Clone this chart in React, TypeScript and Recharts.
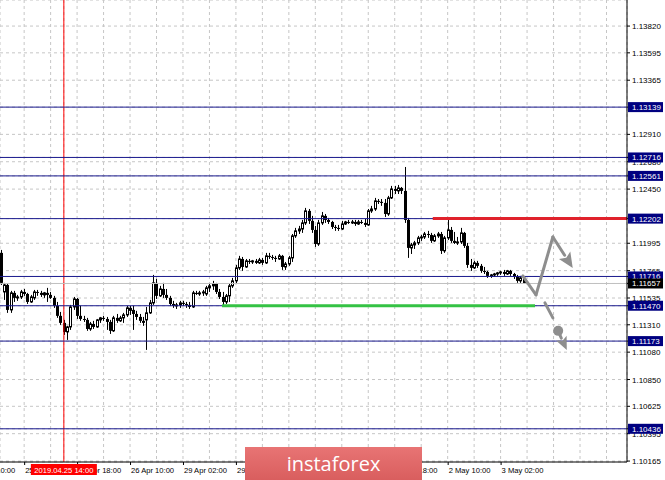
import { ComposedChart, Bar, XAxis, YAxis, CartesianGrid, ReferenceLine, ReferenceDot } from 'recharts'

// H1 candles, slot 0 = 24 Apr 19:00, slot 158 = 3 May 09:00 (weekend skipped)
const opens = [
  1.11914, 1.11586, 1.11645, 1.11435, 1.11578, 1.11536, 1.11544, 1.11586, 1.11569, 1.11502,
  1.11536, 1.11586, 1.11578, 1.11561, 1.11578, 1.11561, 1.11536, 1.11469, 1.11385, 1.11326,
  1.11250, 1.11292, 1.11460, 1.11527, 1.11385, 1.11359, 1.11351, 1.11275, 1.11317, 1.11292,
  1.11351, 1.11368, 1.11359, 1.11334, 1.11259, 1.11368, 1.11343, 1.11368, 1.11393, 1.11452,
  1.11435, 1.11401, 1.11376, 1.11343, 1.11351, 1.11410, 1.11494, 1.11662, 1.11553, 1.11611,
  1.11561, 1.11536, 1.11485, 1.11469, 1.11477, 1.11494, 1.11485, 1.11477, 1.11460, 1.11578,
  1.11569, 1.11578, 1.11569, 1.11620, 1.11637, 1.11653, 1.11586, 1.11544, 1.11502, 1.11553,
  1.11637, 1.11679, 1.11788, 1.11863, 1.11796, 1.11847, 1.11838, 1.11847, 1.11830, 1.11855,
  1.11830, 1.11889, 1.11880, 1.11872, 1.11863, 1.11889, 1.11796, 1.11821, 1.11872, 1.12057,
  1.12099, 1.12115, 1.12166, 1.12267, 1.12183, 1.12107, 1.11989, 1.12166, 1.12225, 1.12191,
  1.12174, 1.12132, 1.12124, 1.12115, 1.12157, 1.12174, 1.12166, 1.12174, 1.12157, 1.12174,
  1.12166, 1.12149, 1.12267, 1.12283, 1.12351, 1.12343, 1.12334, 1.12241, 1.12376, 1.12451,
  1.12435, 1.12460, 1.12435, 1.12191, 1.11956, 1.11981, 1.11998, 1.12040, 1.12048, 1.12073,
  1.12065, 1.12015, 1.12057, 1.12073, 1.11931, 1.12040, 1.12107, 1.12015, 1.11998, 1.12006,
  1.12082, 1.11973, 1.11813, 1.11788, 1.11830, 1.11805, 1.11763, 1.11754, 1.11721, 1.11729,
  1.11737, 1.11746, 1.11754, 1.11737, 1.11763, 1.11737, 1.11712, 1.11679, 1.11704,
]
const highs = [
  1.11939, 1.11662, 1.11653, 1.11595, 1.11595, 1.11561, 1.11603, 1.11611, 1.11578, 1.11561,
  1.11603, 1.11603, 1.11595, 1.11586, 1.11620, 1.11586, 1.11553, 1.11502, 1.11418, 1.11351,
  1.11301, 1.11477, 1.11544, 1.11536, 1.11469, 1.11385, 1.11368, 1.11334, 1.11343, 1.11359,
  1.11376, 1.11385, 1.11376, 1.11351, 1.11385, 1.11401, 1.11385, 1.11410, 1.11469, 1.11469,
  1.11469, 1.11427, 1.11401, 1.11376, 1.11460, 1.11519, 1.11729, 1.11695, 1.11637, 1.11662,
  1.11611, 1.11553, 1.11511, 1.11494, 1.11511, 1.11511, 1.11502, 1.11502, 1.11595, 1.11595,
  1.11595, 1.11603, 1.11637, 1.11653, 1.11679, 1.11662, 1.11611, 1.11586, 1.11569, 1.11653,
  1.11704, 1.11813, 1.11889, 1.11880, 1.11863, 1.11863, 1.11855, 1.11863, 1.11872, 1.11872,
  1.11914, 1.11914, 1.11897, 1.11889, 1.11905, 1.11897, 1.11838, 1.11889, 1.12073, 1.12124,
  1.12141, 1.12191, 1.12292, 1.12283, 1.12225, 1.12141, 1.12191, 1.12258, 1.12241, 1.12208,
  1.12183, 1.12149, 1.12149, 1.12183, 1.12183, 1.12191, 1.12191, 1.12191, 1.12191, 1.12191,
  1.12199, 1.12283, 1.12309, 1.12376, 1.12367, 1.12367, 1.12367, 1.12393, 1.12477, 1.12477,
  1.12485, 1.12468, 1.12636, 1.12208, 1.11998, 1.12015, 1.12057, 1.12065, 1.12090, 1.12099,
  1.12082, 1.12073, 1.12090, 1.12090, 1.12057, 1.12191, 1.12132, 1.12090, 1.12048, 1.12124,
  1.12090, 1.11998, 1.11863, 1.11847, 1.11847, 1.11821, 1.11796, 1.11763, 1.11737, 1.11746,
  1.11754, 1.11763, 1.11771, 1.11771, 1.11771, 1.11746, 1.11729, 1.11721, 1.11712,
]
const lows = [
  1.11645, 1.11519, 1.11410, 1.11410, 1.11502, 1.11511, 1.11527, 1.11553, 1.11485, 1.11494,
  1.11519, 1.11553, 1.11544, 1.11536, 1.11502, 1.11527, 1.11452, 1.11368, 1.11309, 1.11225,
  1.11183, 1.11267, 1.11435, 1.11359, 1.11343, 1.11334, 1.11259, 1.11259, 1.11275, 1.11284,
  1.11326, 1.11343, 1.11267, 1.11233, 1.11250, 1.11326, 1.11334, 1.11326, 1.11376, 1.11393,
  1.11267, 1.11351, 1.11326, 1.11301, 1.11099, 1.11401, 1.11477, 1.11527, 1.11544, 1.11536,
  1.11519, 1.11469, 1.11452, 1.11443, 1.11452, 1.11469, 1.11452, 1.11443, 1.11452, 1.11561,
  1.11553, 1.11553, 1.11553, 1.11586, 1.11603, 1.11569, 1.11527, 1.11477, 1.11485, 1.11502,
  1.11620, 1.11653, 1.11771, 1.11763, 1.11788, 1.11821, 1.11821, 1.11821, 1.11821, 1.11813,
  1.11821, 1.11863, 1.11855, 1.11838, 1.11855, 1.11771, 1.11771, 1.11805, 1.11838, 1.12040,
  1.12073, 1.12082, 1.12149, 1.12157, 1.12082, 1.11964, 1.11973, 1.12149, 1.12166, 1.12157,
  1.12115, 1.12099, 1.12099, 1.12107, 1.12149, 1.12157, 1.12157, 1.12141, 1.12149, 1.12157,
  1.12132, 1.12141, 1.12250, 1.12267, 1.12325, 1.12309, 1.12216, 1.12225, 1.12367, 1.12409,
  1.12409, 1.12409, 1.12166, 1.11872, 1.11905, 1.11947, 1.11981, 1.12015, 1.12031, 1.12040,
  1.11998, 1.12006, 1.12040, 1.11905, 1.11914, 1.12023, 1.11998, 1.11989, 1.11981, 1.11989,
  1.11956, 1.11788, 1.11763, 1.11779, 1.11788, 1.11746, 1.11737, 1.11704, 1.11704, 1.11712,
  1.11721, 1.11729, 1.11721, 1.11729, 1.11721, 1.11695, 1.11662, 1.11662, 1.11653,
]
const closes = [
  1.11662, 1.11645, 1.11435, 1.11578, 1.11536, 1.11544, 1.11586, 1.11569, 1.11502, 1.11544,
  1.11586, 1.11578, 1.11561, 1.11578, 1.11561, 1.11536, 1.11469, 1.11385, 1.11326, 1.11250,
  1.11292, 1.11460, 1.11527, 1.11385, 1.11359, 1.11351, 1.11275, 1.11317, 1.11292, 1.11351,
  1.11368, 1.11359, 1.11334, 1.11259, 1.11368, 1.11343, 1.11368, 1.11393, 1.11452, 1.11427,
  1.11401, 1.11376, 1.11343, 1.11326, 1.11410, 1.11494, 1.11662, 1.11553, 1.11611, 1.11561,
  1.11536, 1.11485, 1.11469, 1.11477, 1.11494, 1.11485, 1.11477, 1.11460, 1.11578, 1.11569,
  1.11578, 1.11586, 1.11620, 1.11637, 1.11653, 1.11586, 1.11544, 1.11502, 1.11553, 1.11637,
  1.11679, 1.11788, 1.11863, 1.11796, 1.11847, 1.11838, 1.11847, 1.11830, 1.11855, 1.11830,
  1.11889, 1.11880, 1.11872, 1.11863, 1.11889, 1.11796, 1.11821, 1.11872, 1.12057, 1.12099,
  1.12115, 1.12166, 1.12267, 1.12183, 1.12107, 1.11989, 1.12166, 1.12225, 1.12191, 1.12174,
  1.12132, 1.12124, 1.12115, 1.12157, 1.12174, 1.12166, 1.12174, 1.12157, 1.12174, 1.12166,
  1.12149, 1.12267, 1.12283, 1.12351, 1.12343, 1.12334, 1.12241, 1.12376, 1.12451, 1.12435,
  1.12460, 1.12435, 1.12191, 1.11956, 1.11981, 1.11998, 1.12040, 1.12048, 1.12073, 1.12065,
  1.12015, 1.12057, 1.12073, 1.11931, 1.12040, 1.12107, 1.12015, 1.11998, 1.12006, 1.12082,
  1.11973, 1.11813, 1.11788, 1.11830, 1.11805, 1.11763, 1.11754, 1.11721, 1.11729, 1.11737,
  1.11746, 1.11754, 1.11737, 1.11763, 1.11737, 1.11712, 1.11679, 1.11704, 1.11657,
]

// price scale ticks (1.13140 and 1.12225 sit fully under level tags and are left out)
const priceTicks = [
  1.1382, 1.13595, 1.13365, 1.1291, 1.1268, 1.1245, 1.11995,
  1.11765, 1.11535, 1.1131, 1.1108, 1.1085, 1.10625, 1.10395, 1.10165,
]
const gridSlots = [7, 15, 23, 31, 39, 47, 55, 63, 71, 79, 87, 95, 103, 111, 119, 127, 135, 143, 151, 159, 167, 175, 183]
const labelSlots = [-9, 7, 23, 39, 55, 71, 87, 103, 119, 135, 151]
const timeLabels = [
  '24 Apr 10:00', '25 Apr 02:00', '25 Apr 18:00', '26 Apr 10:00', '29 Apr 02:00', '29 Apr 18:00',
  '30 Apr 10:00', '1 May 02:00', '1 May 18:00', '2 May 10:00', '3 May 02:00',
]

const levels = [1.13139, 1.12716, 1.12561, 1.12202, 1.11716, 1.1147, 1.11173, 1.10436]
const lastPrice = 1.11657
const markerSlot = 19
const markerLabel = '2019.04.25 14:00'
const resistance = { from: 130.5, to: 189.2, price: 1.12202 }
const support = { from: 66.8, to: 161.4, price: 1.1147 }

// forecast drawing: zigzag up then down, alternative dashed path down through the dot
const upPath = [
  { slot: 157.7, price: 1.11721 },
  { slot: 161.7, price: 1.11561 },
  { slot: 166.8, price: 1.12048 },
  { slot: 172.8, price: 1.11788 },
]
const downDash = [
  { slot: 164.4, price: 1.11494 },
  { slot: 166.8, price: 1.11368 },
]
const downDot = { slot: 168.4, price: 1.11259 }
const downArrow = [
  { slot: 168.9, price: 1.11225 },
  { slot: 171.0, price: 1.11099 },
]

const candles = opens.map((o, i) => ({
  slot: i,
  open: o,
  high: highs[i],
  low: lows[i],
  close: closes[i],
}))

const NAVY = '#1a1a8e'
const ARROW = '#8e8e8e'

function Candle(props: any) {
  const { x, y, width, height, payload } = props
  if (height == null || !payload) return null
  const top = Math.min(y, y + height)
  const h = Math.abs(height)
  const k = h / (payload.high - payload.low)
  const yo = top + (payload.high - payload.open) * k
  const yc = top + (payload.high - payload.close) * k
  const cx = Math.round(x + width / 2) + 0.5
  const bull = payload.close >= payload.open
  const bt = Math.min(yo, yc)
  const bh = Math.max(Math.abs(yo - yc), 1)
  return (
    <g>
      <line x1={cx} y1={top} x2={cx} y2={top + h} stroke="#000" strokeWidth={1} />
      {bull ? (
        <rect x={cx - 1} y={bt} width={2} height={bh} fill="#fff" stroke="#000" strokeWidth={1} />
      ) : (
        <rect x={cx - 1.5} y={bt} width={3} height={bh} fill="#000" />
      )}
    </g>
  )
}

function Arrow(props: any) {
  const { x1, y1, x2, y2, head, dash } = props
  const dx = x2 - x1
  const dy = y2 - y1
  const len = Math.sqrt(dx * dx + dy * dy) || 1
  const ux = dx / len
  const uy = dy / len
  const hl = head || 0
  const bx = x2 - ux * hl
  const by = y2 - uy * hl
  const hw = hl * 0.45
  return (
    <g>
      <line
        x1={x1}
        y1={y1}
        x2={hl ? bx : x2}
        y2={hl ? by : y2}
        stroke={ARROW}
        strokeWidth={3}
        strokeLinecap="round"
        strokeDasharray={dash}
      />
      {hl > 0 && (
        <polygon
          points={`${x2},${y2} ${bx - uy * hw},${by + ux * hw} ${bx + ux * 3},${by + uy * 3} ${bx + uy * hw},${by - ux * hw}`}
          fill={ARROW}
        />
      )}
    </g>
  )
}

function PriceTick({ x, y, payload }: any) {
  const v = payload.value
  const isLevel = levels.includes(v)
  if (isLevel || v === lastPrice) {
    return (
      <g>
        <rect x={x - 4} y={y - 5} width={35} height={10} fill={isLevel ? '#000080' : '#000'} />
        <text x={x} y={y + 3} fill="#fff" fontSize={8}>
          {v.toFixed(5)}
        </text>
      </g>
    )
  }
  return (
    <text x={x} y={y + 3} fill="#000" fontSize={8}>
      {v.toFixed(5)}
    </text>
  )
}

function TimeTick({ x, y, payload }: any) {
  const v = payload.value
  if (v === markerSlot) {
    return (
      <g>
        <rect x={x - 33} y={y + 2} width={66} height={11} fill="#ff0000" />
        <text x={x} y={y + 10.5} fill="#fff" fontSize={7.6} textAnchor="middle">
          {markerLabel}
        </text>
      </g>
    )
  }
  const i = labelSlots.indexOf(v)
  if (i < 0) return null
  return (
    <g>
      <line x1={x + 0.5} y1={y} x2={x + 0.5} y2={y + 3} stroke="#000" />
      <text x={x + 1} y={y + 11} fontSize={7.6} fill="#000" textAnchor="start">
        {timeLabels[i]}
      </text>
    </g>
  )
}

export default function App() {
  return (
    <div style={{ position: 'relative', width: 665, height: 480, background: '#fff', fontFamily: '"Liberation Sans", Arial, sans-serif' }}>
      <style>{'body{margin:0}'}</style>
      <ComposedChart width={665} height={480} data={candles} margin={{ top: 0, right: 0, bottom: 0, left: 0 }}>
        <CartesianGrid stroke="#c6c6c6" strokeDasharray="3 3" />
        <XAxis
          dataKey="slot"
          type="number"
          domain={[-0.3, 189.2]}
          allowDataOverflow
          ticks={[-9, ...gridSlots, markerSlot]}
          interval={0}
          height={18}
          axisLine={{ stroke: '#000' }}
          tickLine={false}
          tickSize={0}
          tickMargin={0}
          tick={<TimeTick />}
        />
        <YAxis
          orientation="right"
          type="number"
          domain={[1.10157, 1.14039]}
          allowDataOverflow
          ticks={[...priceTicks, ...levels, lastPrice]}
          interval={0}
          width={38}
          axisLine={{ stroke: '#000' }}
          tickLine={{ stroke: '#000' }}
          tickSize={3}
          tickMargin={2}
          tick={<PriceTick />}
        />
        <ReferenceLine x={markerSlot} stroke="#ff0000" />
        {levels.map((lv) => (
          <ReferenceLine key={lv} y={lv} stroke={NAVY} />
        ))}
        <ReferenceLine y={lastPrice} stroke="#c0c0c0" />
        <ReferenceLine
          segment={[{ x: resistance.from, y: resistance.price }, { x: resistance.to, y: resistance.price }]}
          stroke="#e0222c"
          strokeWidth={3}
          ifOverflow="visible"
        />
        <ReferenceLine
          segment={[{ x: support.from, y: support.price }, { x: support.to, y: support.price }]}
          stroke="#34c244"
          strokeWidth={3}
          ifOverflow="visible"
        />
        <Bar
          dataKey={(d: any) => [d.low, d.high]}
          barSize={3}
          shape={<Candle />}
          isAnimationActive={false}
        />
        {upPath.slice(1).map((pt, i) => (
          <ReferenceLine
            key={'u' + i}
            segment={[{ x: upPath[i].slot, y: upPath[i].price }, { x: pt.slot, y: pt.price }]}
            ifOverflow="visible"
            shape={(p: any) => <Arrow {...p} head={i === upPath.length - 2 ? 15 : 0} />}
          />
        ))}
        <ReferenceLine
          segment={[{ x: downDash[0].slot, y: downDash[0].price }, { x: downDash[1].slot, y: downDash[1].price }]}
          ifOverflow="visible"
          shape={(p: any) => <Arrow {...p} head={0} />}
        />
        <ReferenceDot x={downDot.slot} y={downDot.price} r={5} fill={ARROW} stroke="none" ifOverflow="visible" />
        <ReferenceLine
          segment={[{ x: downArrow[0].slot, y: downArrow[0].price }, { x: downArrow[1].slot, y: downArrow[1].price }]}
          ifOverflow="visible"
          shape={(p: any) => <Arrow {...p} head={13} />}
        />
      </ComposedChart>
      <div
        style={{
          position: 'absolute',
          left: 245,
          top: 447,
          width: 177,
          height: 33,
          background: 'linear-gradient(#e87474, #d95e5e)',
          color: '#fff',
          fontFamily: '"Open Sans", sans-serif',
          fontSize: 20,
          lineHeight: '33px',
          textAlign: 'center',
        }}
      >
        instaforex
      </div>
    </div>
  )
}
